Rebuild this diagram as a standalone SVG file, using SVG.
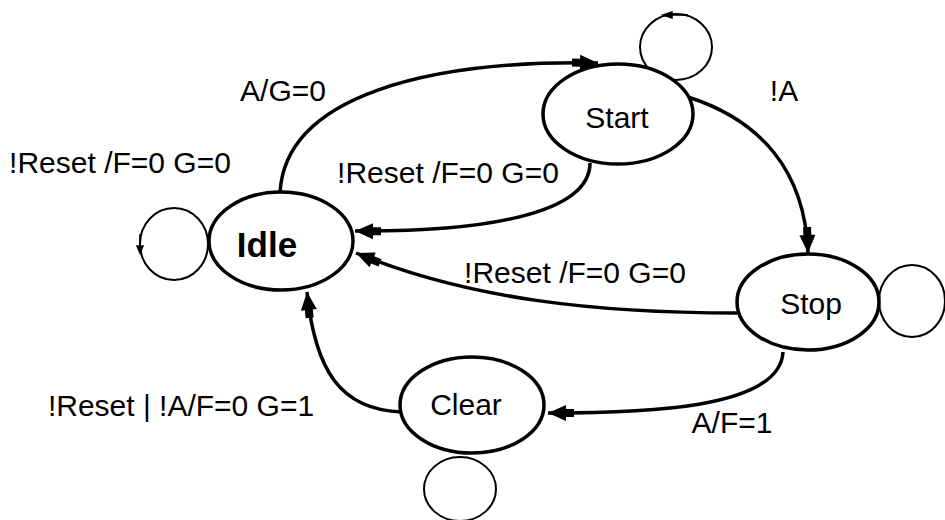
<svg xmlns="http://www.w3.org/2000/svg" width="945" height="520" viewBox="0 0 945 520">
<style>
.st{fill:#fff;stroke:#000;stroke-width:3.5}
.lp{fill:none;stroke:#000;stroke-width:2}
.tr{fill:none;stroke:#000;stroke-width:3.5;marker-end:url(#ah)}
.nt{font-family:"Liberation Sans",Arial,sans-serif;font-size:30px;text-anchor:middle;fill:#000}
.nb{font-weight:bold;font-size:35px}
.lb{font-family:"Liberation Sans",Arial,sans-serif;font-size:30px;text-anchor:middle;fill:#000}
</style>
<defs>
<marker id="ah" markerUnits="userSpaceOnUse" markerWidth="30" markerHeight="20" viewBox="0 0 30 20" refX="28" refY="10" orient="auto">
<path d="M2,6 H10 V2 L28,10 L10,18 V14 H2 Z" fill="#000"/>
</marker>
</defs>
<g id="loops">
<ellipse class="lp" cx="676" cy="47" rx="36" ry="33"/>
<path d="M663,15 L672,12 L672,18 Z M671,15 H688" fill="#000" stroke="#000" stroke-width="1.5"/>
<ellipse class="lp" cx="174" cy="244" rx="34" ry="36"/>
<path d="M140,234 V246 M137,246 L143,246 L140,253 Z" fill="#000" stroke="#000" stroke-width="1.5"/>
<ellipse class="lp" cx="912" cy="301" rx="33" ry="36"/>
<ellipse class="lp" cx="460" cy="489" rx="36" ry="32"/>
</g>
<g id="connectors">
<path class="tr" d="M280,193 C 285,95 430,60 598,63"/>
<path class="tr" d="M688,97 C 760,120 805,170 808,253"/>
<path class="tr" d="M590,163 C 590,215 480,232 355,231"/>
<path class="tr" d="M737,313 C 600,313 470,300 356,253"/>
<path class="tr" d="M783,352 C 780,410 640,413 548,413"/>
<path class="tr" d="M402,412 C 340,410 315,370 307,292"/>
</g>
<g id="labels">
<text class="lb" x="283" y="101">A/G=0</text>
<text class="lb" x="120" y="173">!Reset /F=0 G=0</text>
<text class="lb" x="448" y="183">!Reset /F=0 G=0</text>
<text class="lb" x="784" y="101">!A</text>
<text class="lb" x="575" y="283">!Reset /F=0 G=0</text>
<text class="lb" x="181" y="416">!Reset | !A/F=0 G=1</text>
<text class="lb" x="732" y="433">A/F=1</text>
</g>
<g id="Idle">
<ellipse class="st" cx="281" cy="241" rx="72" ry="49"/>
<text class="nt nb" x="267" y="257">Idle</text>
</g>
<g id="Start">
<ellipse class="st" cx="618" cy="114" rx="75" ry="50"/>
<text class="nt" x="617" y="128">Start</text>
</g>
<g id="Stop">
<ellipse class="st" cx="808" cy="302" rx="71" ry="48"/>
<text class="nt" x="811" y="314">Stop</text>
</g>
<g id="Clear">
<ellipse class="st" cx="472" cy="405" rx="72" ry="48"/>
<text class="nt" x="466" y="415">Clear</text>
</g>
</svg>
